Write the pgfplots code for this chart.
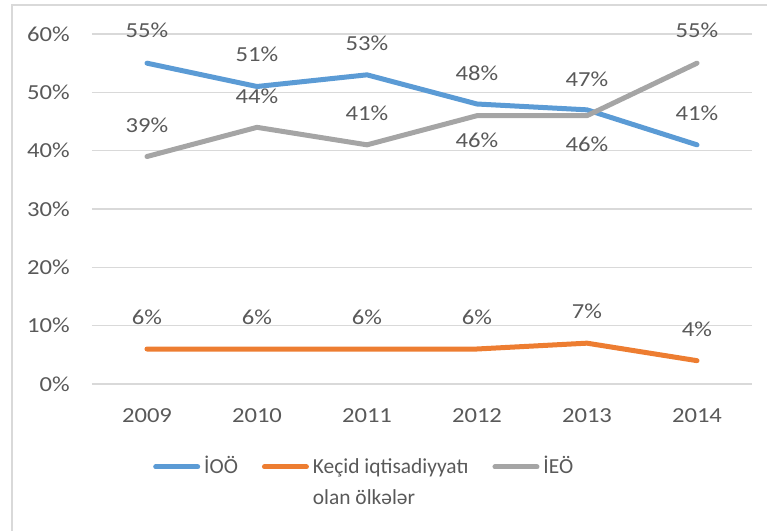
\documentclass[border=0pt]{standalone}
\usepackage{fontspec}
\setmainfont{Carlito}
\newfontfamily\numfont{Carlito}[FakeStretch=1.15]
\usepackage{pgfplots}
\pgfplotsset{compat=1.18}
\usepackage{pgfplotstable}
\definecolor{cblue}{HTML}{5B9BD5}
\definecolor{corange}{HTML}{ED7D31}
\definecolor{cgray}{HTML}{A5A5A5}
\definecolor{ctext}{HTML}{595959}
\definecolor{cgrid}{HTML}{D9D9D9}

\pgfplotstableread{
x y off
2009 55 33
2010 51 32
2011 53 32
2012 48 31
2013 47 31
2014 41 32
}\ioo
\pgfplotstableread{
x y off
2009 6 32
2010 6 32
2011 6 32
2012 6 32
2013 7 32
2014 4 31
}\kecid
\pgfplotstableread{
x y off
2009 39 31.5
2010 44 31
2011 41 32
2012 46 -25
2013 46 -29
2014 55 33
}\ieo

\begin{document}
\fontsize{21.5}{31}\selectfont
\begin{tikzpicture}
\begin{axis}[
  at={(0,0)}, anchor=south west,
  scale only axis, width=660bp, height=350bp,
  xmin=2008.5, xmax=2014.5, ymin=0, ymax=60,
  xtick={2009,2010,2011,2012,2013,2014}, ytick={0,10,20,30,40,50,60},
  /pgf/number format/1000 sep={},
  /pgf/number format/assume math mode=true,
  yticklabel={\pgfmathprintnumber{\tick}\%},
  tick label style={color=ctext, inner sep=0pt, font=\numfont},
  xticklabel style={yshift=-24bp},
  yticklabel style={xshift=-22bp},
  major tick length=0pt, tick style={draw=none},
  ymajorgrids, grid style={cgrid, line width=1.3bp},
  axis line style={draw=none},
  clip=false,
  every axis plot/.append style={line width=5bp, line cap=round, line join=round},
  nodes near coords={\pgfmathprintnumber{\pgfplotspointmeta}\%},
  point meta=y,
  visualization depends on={\thisrow{off}\as\myoff},
  every node near coord/.append style={anchor=center, inner sep=0pt, text=ctext, font=\numfont, yshift=\myoff bp},
  legend image code/.code={\draw[#1,line cap=round] (2.5bp,6.8bp) -- (44.5bp,6.8bp); \path[draw=none,fill=none] (0bp,0bp) rectangle (47bp,1bp);},
  legend style={at={(axis description cs:0.0924,-0.194)}, anchor=north west, draw=none, fill=none,
    inner sep=0pt, legend columns=3, cells={anchor=base west},
    nodes={inner sep=0pt, text=ctext},
    /tikz/every odd column/.append style={column sep=4bp},
    /tikz/every even column/.append style={column sep=24bp}},
]
\addplot[cblue] table[x=x,y=y] {\ioo};
\addlegendentry{İOÖ}
\addplot[corange] table[x=x,y=y] {\kecid};
\addlegendentry{\begin{tabular}[t]{@{}l@{}}Keçid iqtisadiyyatı\\olan ölkələr\end{tabular}}
\addplot[cgray] table[x=x,y=y] {\ieo};
\addlegendentry{İEÖ}
\end{axis}
\draw[cgrid, line width=1.5bp] (-80bp,-300bp) -- (-80bp,379bp) -- (900bp,379bp);
\pgfresetboundingbox
\path[use as bounding box] (-92bp,-147bp) rectangle (675bp,384bp);
\end{tikzpicture}
\end{document}
